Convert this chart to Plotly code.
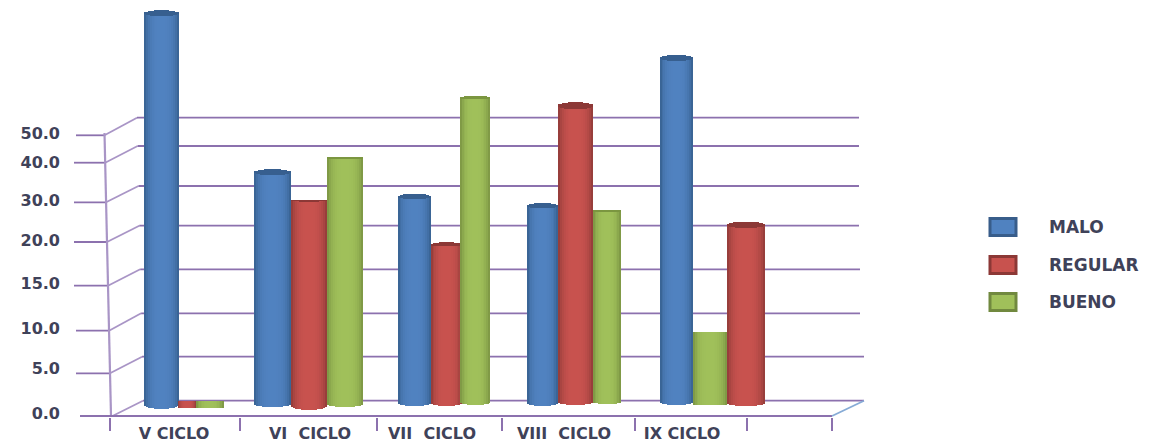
import numpy as np
import plotly.graph_objects as go

# Survey results per study cycle, in the units printed on the value axis
categories = ["V CICLO", "VI\u00a0 CICLO", "VII\u00a0 CICLO", "VIII\u00a0 CICLO", "IX CICLO"]
malo = [88.0, 34.2, 28.0, 25.7, 72.2]
regular = [0.0, 26.5, 18.1, 55.5, 21.0]
bueno = [0.0, 37.3, 57.7, 24.0, 7.8]
tick_labels = ["0.0", "5.0", "10.0", "15.0", "20.0", "30.0", "40.0", "50.0"]
tick_values = [0, 5, 10, 15, 20, 30, 40, 50]

# The value axis is hand spaced: heights of each tick on the back wall and on the front edge
wall_heights = np.array([0.3, 44.3, 87.7, 131.7, 175.3, 215, 255, 283.3])
front_heights = np.array([-15.7, 27.7, 70.3, 115.3, 159, 198.7, 238.3, 265.7])
label_heights = np.array([-12.3, 32.7, 72.3, 117.3, 161, 201, 239, 268])
tick_starts = [80, 76, 76, 74, 74, 74, 74, 76]
grid_ends = [864, 864, 860, 860, 859, 859, 859, 859]

# Bar placement along the floor, one row per series
left_edges = {
    "MALO": [144, 254, 398, 527, 660],
    "REGULAR": [179, 291, 431, 558, 727],
    "BUENO": [197, 327, 461, 594, 693],
}
bar_widths = {
    "MALO": [35, 37, 33, 31, 33],
    "REGULAR": [18, 36, 31, 35, 38],
    "BUENO": [27, 36, 29, 27, 34],
}
floor_offsets = {
    "MALO": [-4, -3, -2, -2, -1],
    "REGULAR": [-7, -5, -2, -1, -2],
    "BUENO": [-7, -3, -1, -1, -4],
}
bottom_bulge = {
    "MALO": [4, 3, 3, 3, 3],
    "REGULAR": [0, 4, 3, 3, 3],
    "BUENO": [0, 3, 3, 2, 0],
}
cap_depth = {
    "MALO": [3, 3, 2.5, 2.5, 3],
    "REGULAR": [0, 0.5, 2, 3.5, 3],
    "BUENO": [0, 1, 1.5, 1, 0],
}
palette = {
    "MALO": {"mid": (80, 130, 192), "edge": (52, 92, 138), "cap": "#375F8F", "line": "#385D8A"},
    "REGULAR": {"mid": (200, 82, 78), "edge": (138, 56, 54), "cap": "#8C3836", "line": "#8C3836"},
    "BUENO": {"mid": (160, 192, 90), "edge": (118, 143, 64), "cap": "#7B9640", "line": "#71893F"},
}
series = {"MALO": malo, "REGULAR": regular, "BUENO": bueno}

group_centers = [174, 310, 432, 564, 682]
separators = [110, 240, 377, 502, 635, 747, 832]
PURPLE = "#8C71AE"
PURPLE_SOFT = "#A995C6"
FLOOR_EDGE = "#86ABD6"
TEXT = "#3F4259"
STRIPS = 18


def to_axis(values):
    """Map printed values onto the hand-spaced axis; above 50 the last spacing continues."""
    v = np.asarray(values, dtype=float)
    slope = (wall_heights[-1] - wall_heights[-2]) / 10
    return np.where(v <= 50, np.interp(v, tick_values, wall_heights),
                    wall_heights[-1] + (v - 50) * slope)


def shade(name, f):
    """Cylinder shading across a bar, f running from 0 at the left side to 1 at the right."""
    p = palette[name]
    k = np.clip(1 - abs(2 * f - 1) ** 3, 0, 1) ** 0.8
    rgb = [round(e + (m - e) * k) for e, m in zip(p["edge"], p["mid"])]
    return "rgb({},{},{})".format(*rgb)


fig = go.Figure()

for name, values in series.items():
    tops = to_axis(values)
    xs, widths, heights, bases, colors = [], [], [], [], []
    cap_x, cap_w, cap_h, cap_b = [], [], [], []
    for i, top in enumerate(tops):
        w = bar_widths[name][i] / STRIPS
        for s in range(STRIPS):
            f = (s + 0.5) / STRIPS
            arc = np.sqrt(1 - (2 * f - 1) ** 2)
            x = left_edges[name][i] + w * (s + 0.5)
            depth = cap_depth[name][i]
            body_top = top - depth - depth * arc
            body_base = floor_offsets[name][i] - bottom_bulge[name][i] * arc
            xs.append(x)
            widths.append(w + 0.35)
            bases.append(body_base)
            heights.append(body_top - body_base)
            colors.append(shade(name, f))
            if depth:
                cap_x.append(x)
                cap_w.append(w + 0.35)
                cap_b.append(body_top - 0.2)
                cap_h.append(top - (depth - depth * arc) - body_top + 0.2)
    fig.add_trace(go.Bar(x=xs, y=heights, base=bases, width=widths, name=name,
                         marker=dict(color=colors, line=dict(width=0)), showlegend=False))
    fig.add_trace(go.Bar(x=cap_x, y=cap_h, base=cap_b, width=cap_w, name=name,
                         marker=dict(color=palette[name]["cap"], line=dict(width=0)),
                         showlegend=False))

shapes = []


def line(x0, y0, x1, y1, color=PURPLE, width=1.8):
    shapes.append(dict(type="line", xref="x", yref="y", x0=x0, y0=y0, x1=x1, y1=y1,
                       layer="below", line=dict(color=color, width=width)))


def axis_x(h):
    # The front vertical edge leans slightly inward toward the floor
    return 104.5 + (266 - h) / 282 * 6.5


for i in range(len(tick_values)):
    wall_x = 143 - (wall_heights[i] / 283.3) * 6
    front = front_heights[i]
    line(tick_starts[i], front, axis_x(front), front)
    line(axis_x(front), front, wall_x, wall_heights[i], PURPLE_SOFT)
    line(wall_x, wall_heights[i], grid_ends[i], wall_heights[i])

line(104.5, 268, 111, -15, PURPLE_SOFT, 2.2)
line(80, -15, separators[-1], -15)
line(separators[-1], -15, 864, 0.3, FLOOR_EDGE)

annotations = []
for idx, name in enumerate(series):
    cy = [174, 136, 99][idx]
    shapes.append(dict(type="rect", xref="x", yref="y", x0=990, x1=1016, y0=cy - 8.5, y1=cy + 8.5,
                       fillcolor="rgb({},{},{})".format(*palette[name]["mid"]),
                       line=dict(color=palette[name]["line"], width=3)))
    annotations.append(dict(x=1047, y=cy, xref="x", yref="y", text=name, showarrow=False,
                            xanchor="left", yanchor="middle",
                            font=dict(family="DejaVu Sans", size=17, weight="bold", color=TEXT)))

fig.update_layout(
    width=1152, height=445, autosize=False,
    margin=dict(l=0, r=0, t=0, b=28, pad=0),
    paper_bgcolor="white", plot_bgcolor="white",
    barmode="overlay", bargap=0, showlegend=False,
    shapes=shapes, annotations=annotations,
    xaxis=dict(range=[0, 1152], domain=[0, 1], showgrid=False, zeroline=False, showline=False,
               tickmode="array", tickvals=group_centers, ticktext=categories, ticks="",
               ticklabelstandoff=5, tickangle=0,
               tickfont=dict(family="DejaVu Sans", size=16, weight="bold", color=TEXT),
               minor=dict(tickmode="array", tickvals=separators, ticks="outside", ticklen=13,
                          tickwidth=2, tickcolor=PURPLE, showgrid=False)),
    yaxis=dict(range=[-16, 401], domain=[0, 1], anchor="free", position=60 / 1152,
               showgrid=False, zeroline=False, showline=False,
               tickmode="array", tickvals=label_heights.tolist(), ticktext=tick_labels, ticks="",
               tickfont=dict(family="DejaVu Sans", size=16, weight="bold", color=TEXT)),
)

fig.write_html("out.html")
